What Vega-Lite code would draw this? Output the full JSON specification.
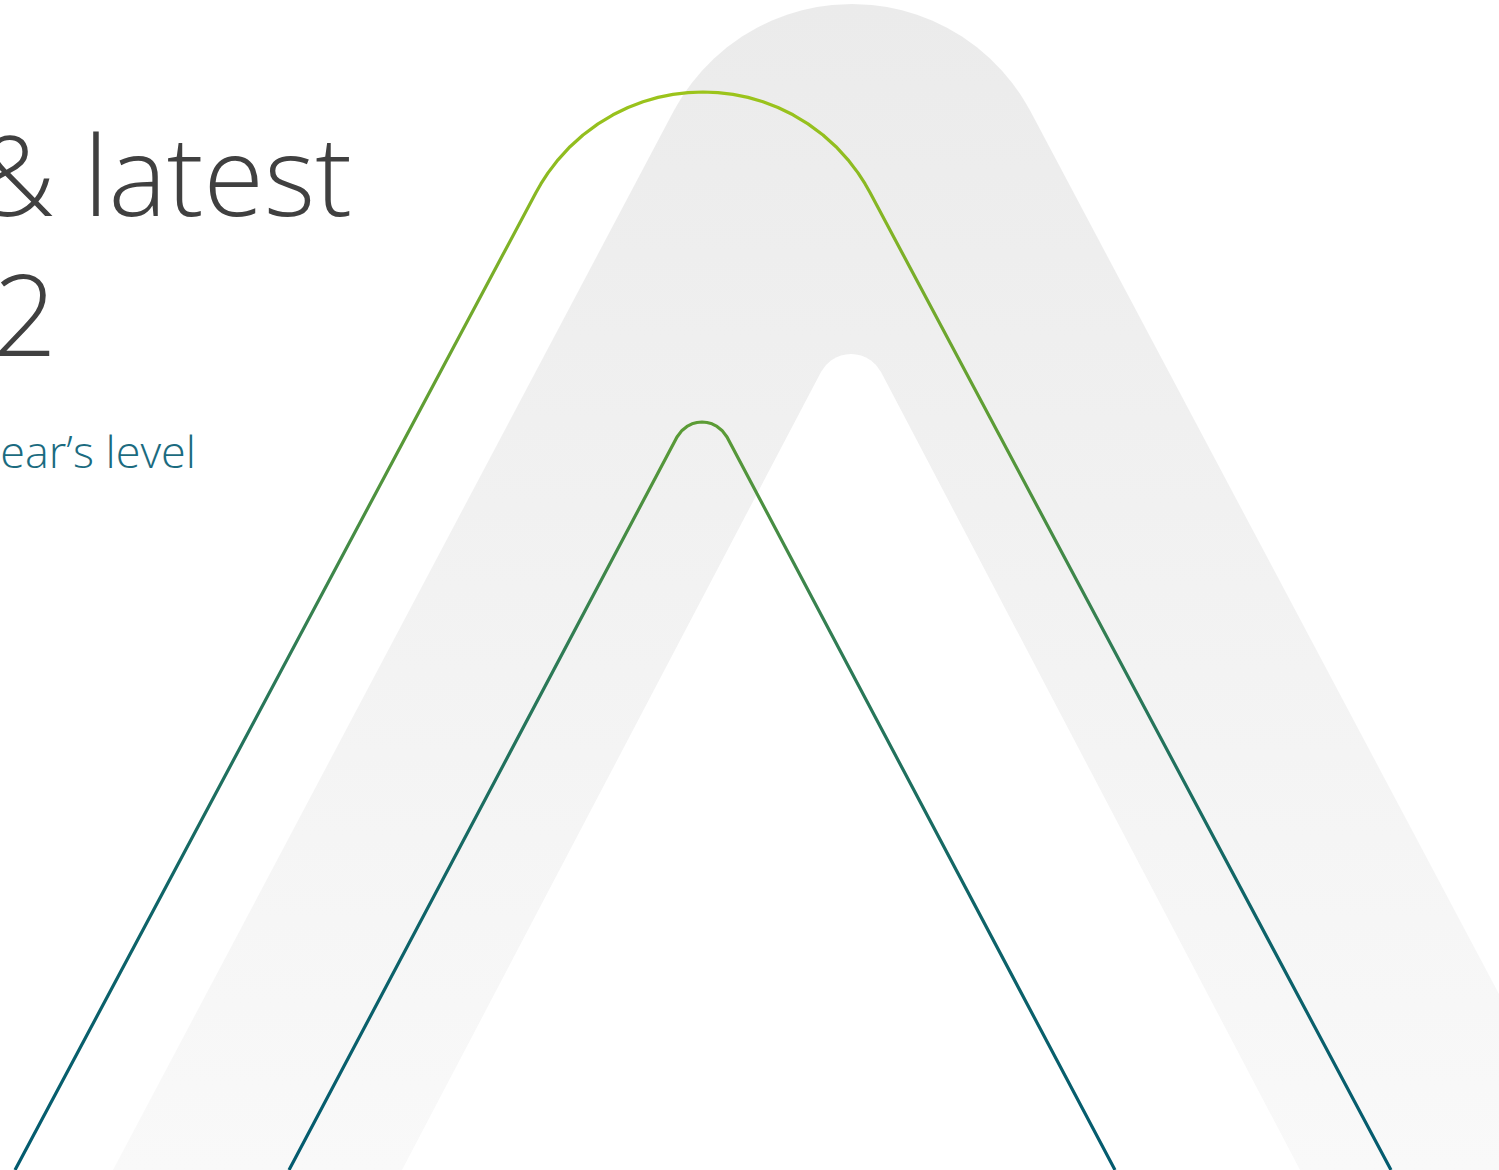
{
  "$schema": "https://vega.github.io/schema/vega-lite/v6.json",
  "autosize": "none",
  "width": 1499,
  "height": 1170,
  "padding": 0,
  "background": "#ffffff",
  "config": {"view": {"stroke": null}},
  "datasets": {
    "outerGray": [
      {"x": 113, "y": 1170}, {"x": 673.4, "y": 111.6}, {"x": 678, "y": 103.4}, {"x": 684, "y": 93.8},
      {"x": 692, "y": 82.7}, {"x": 702, "y": 70.7}, {"x": 714, "y": 58.5}, {"x": 727, "y": 47.3},
      {"x": 742, "y": 36.6}, {"x": 757, "y": 27.7}, {"x": 772, "y": 20.5}, {"x": 787, "y": 14.7},
      {"x": 802, "y": 10.3}, {"x": 817, "y": 7.1}, {"x": 832, "y": 5}, {"x": 852, "y": 4},
      {"x": 872, "y": 5}, {"x": 887, "y": 7.1}, {"x": 902, "y": 10.3}, {"x": 917, "y": 14.7},
      {"x": 932, "y": 20.5}, {"x": 947, "y": 27.7}, {"x": 962, "y": 36.6}, {"x": 977, "y": 47.3},
      {"x": 990, "y": 58.5}, {"x": 1002, "y": 70.7}, {"x": 1012, "y": 82.7}, {"x": 1020, "y": 93.8},
      {"x": 1026, "y": 103.4}, {"x": 1030.6, "y": 111.6}, {"x": 1499, "y": 994}
    ],
    "innerGray": [
      {"x": 402, "y": 1170}, {"x": 821, "y": 372}, {"x": 826, "y": 365}, {"x": 831, "y": 360.5},
      {"x": 836, "y": 357.5}, {"x": 841, "y": 355.5}, {"x": 846, "y": 354.4}, {"x": 851, "y": 354},
      {"x": 856, "y": 354.4}, {"x": 861, "y": 355.5}, {"x": 866, "y": 357.5}, {"x": 871, "y": 360.5},
      {"x": 876, "y": 365}, {"x": 881, "y": 372}, {"x": 1300, "y": 1170}
    ],
    "outerLine": [
      {"x": 15, "y": 1170}, {"x": 536, "y": 192.5}, {"x": 541, "y": 183.7}, {"x": 548, "y": 172.9},
      {"x": 558, "y": 159.8}, {"x": 570, "y": 146.7}, {"x": 583, "y": 135}, {"x": 598, "y": 123.9},
      {"x": 613, "y": 114.8}, {"x": 628, "y": 107.5}, {"x": 643, "y": 101.8}, {"x": 658, "y": 97.4},
      {"x": 673, "y": 94.4}, {"x": 688, "y": 92.6}, {"x": 703, "y": 92}, {"x": 718, "y": 92.6},
      {"x": 733, "y": 94.4}, {"x": 748, "y": 97.4}, {"x": 763, "y": 101.8}, {"x": 778, "y": 107.5},
      {"x": 793, "y": 114.8}, {"x": 808, "y": 123.9}, {"x": 823, "y": 135}, {"x": 836, "y": 146.7},
      {"x": 848, "y": 159.8}, {"x": 858, "y": 172.9}, {"x": 865, "y": 183.7}, {"x": 870, "y": 192.5},
      {"x": 1391, "y": 1170}
    ],
    "innerLine": [
      {"x": 289, "y": 1170}, {"x": 677, "y": 437}, {"x": 682, "y": 430.4}, {"x": 687, "y": 426.4},
      {"x": 692, "y": 423.8}, {"x": 697, "y": 422.5}, {"x": 702, "y": 422}, {"x": 707, "y": 422.5},
      {"x": 712, "y": 423.8}, {"x": 717, "y": 426.4}, {"x": 722, "y": 430.4}, {"x": 727, "y": 437},
      {"x": 1115, "y": 1170}
    ],
    "texts": [
      {"label": "& latest", "line": "t1"},
      {"label": "2", "line": "t2"},
      {"label": "ear\u2019s level", "line": "sub"}
    ]
  },
  "layer": [
    {
      "data": {"name": "outerGray"},
      "mark": {
        "type": "area",
        "fill": {"gradient": "linear", "x1": 0, "y1": 0, "x2": 0, "y2": 1,
          "stops": [{"offset": 0, "color": "#ebebeb"}, {"offset": 1, "color": "#f9f9f9"}]}
      },
      "encoding": {
        "x": {"field": "x", "type": "quantitative", "axis": null, "scale": {"domain": [0, 1499], "nice": false, "zero": false}},
        "y": {"field": "y", "type": "quantitative", "axis": null, "scale": {"domain": [0, 1170], "nice": false, "zero": false, "reverse": true}},
        "y2": {"datum": 1170}
      }
    },
    {
      "data": {"name": "innerGray"},
      "mark": {"type": "area", "fill": "#ffffff"},
      "encoding": {
        "x": {"field": "x", "type": "quantitative"},
        "y": {"field": "y", "type": "quantitative"},
        "y2": {"datum": 1170}
      }
    },
    {
      "data": {"name": "outerLine"},
      "mark": {
        "type": "line", "strokeWidth": 3.2, "strokeJoin": "round",
        "stroke": {"gradient": "linear", "x1": 0, "y1": 0, "x2": 0, "y2": 1,
          "stops": [
            {"offset": 0, "color": "#9cc41b"},
            {"offset": 0.306, "color": "#5c9c35"},
            {"offset": 0.518, "color": "#2f7c55"},
            {"offset": 0.75, "color": "#0f6468"},
            {"offset": 1, "color": "#035b6f"}
          ]}
      },
      "encoding": {
        "x": {"field": "x", "type": "quantitative"},
        "y": {"field": "y", "type": "quantitative"}
      }
    },
    {
      "data": {"name": "innerLine"},
      "mark": {
        "type": "line", "strokeWidth": 3.2, "strokeJoin": "round",
        "stroke": {"gradient": "linear", "x1": 0, "y1": 0, "x2": 0, "y2": 1,
          "stops": [
            {"offset": 0, "color": "#5c9c35"},
            {"offset": 0.305, "color": "#2f7c55"},
            {"offset": 0.64, "color": "#0f6468"},
            {"offset": 1, "color": "#035b6f"}
          ]}
      },
      "encoding": {
        "x": {"field": "x", "type": "quantitative"},
        "y": {"field": "y", "type": "quantitative"}
      }
    },
    {
      "data": {"name": "texts"},
      "transform": [{"filter": "datum.line === 't1'"}],
      "mark": {"type": "text", "align": "right", "baseline": "alphabetic", "font": "Open Sans", "fontWeight": 300, "fontSize": 110, "fill": "#404040"},
      "encoding": {"x": {"datum": 352}, "y": {"datum": 216}, "text": {"field": "label", "type": "nominal"}}
    },
    {
      "data": {"name": "texts"},
      "transform": [{"filter": "datum.line === 't2'"}],
      "mark": {"type": "text", "align": "right", "baseline": "alphabetic", "font": "Open Sans", "fontWeight": 300, "fontSize": 112, "fill": "#404040"},
      "encoding": {"x": {"datum": 57}, "y": {"datum": 356}, "text": {"field": "label", "type": "nominal"}}
    },
    {
      "data": {"name": "texts"},
      "transform": [{"filter": "datum.line === 'sub'"}],
      "mark": {"type": "text", "align": "right", "baseline": "alphabetic", "font": "Open Sans", "fontWeight": 300, "fontSize": 45, "fill": "#1b6b80"},
      "encoding": {"x": {"datum": 196}, "y": {"datum": 468}, "text": {"field": "label", "type": "nominal"}}
    }
  ]
}
